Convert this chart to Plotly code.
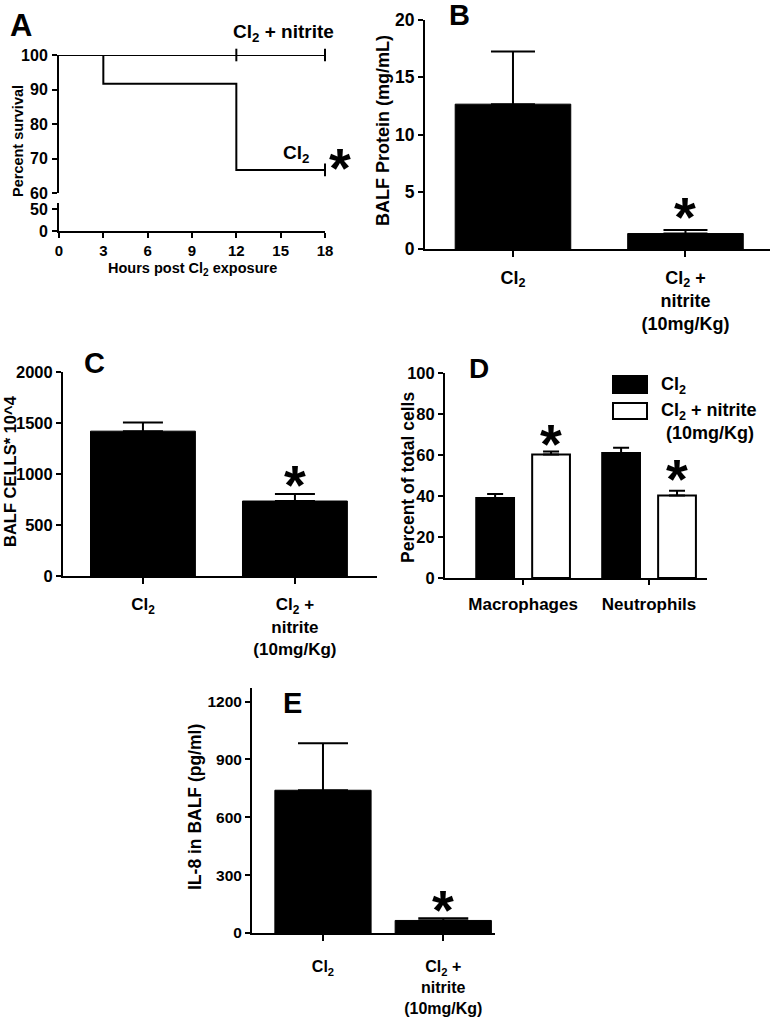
import plotly.graph_objects as go

# ---------------- data ----------------
# Panel A: survival
hours_cl2 = [0, 3, 12, 18]
surv_cl2 = [100, 91.7, 66.7, 66.7]
hours_nitrite = [0, 18]
surv_nitrite = [100, 100]
censor_nitrite_h = [12, 18]
censor_nitrite_s = [100, 100]
censor_cl2_h = [18]
censor_cl2_s = [66.7]
a_xticks = [0, 3, 6, 9, 12, 15, 18]
a_yticks_top = [60, 70, 80, 90, 100]
a_yticks_bot = [0, 50]

# Category labels
groups = ["Cl<sub>2</sub>", "Cl<sub>2</sub> +<br>nitrite<br>(10mg/Kg)"]

# Panel B: BALF protein (mg/mL)
protein_mean = [12.65, 1.35]
protein_sem = [4.6, 0.3]
b_yticks = [0, 5, 10, 15, 20]

# Panel C: BALF cells * 10^4
cells_mean = [1420, 735]
cells_sem = [85, 70]
c_yticks = [0, 500, 1000, 1500, 2000]

# Panel D: percent of total cells
cell_types = ["Macrophages", "Neutrophils"]
d_cl2_pct = [39, 61]
d_cl2_sem = [2.0, 2.5]
d_nit_pct = [60.3, 40.3]
d_nit_sem = [1.4, 2.3]
d_yticks = [0, 20, 40, 60, 80, 100]

# Panel E: IL-8 in BALF (pg/ml)
il8_mean = [740, 65]
il8_sem = [243, 12]
e_yticks = [0, 300, 600, 900, 1200]

# ---------------- layout helpers ----------------
W, H = 771, 1020
FONT = "Liberation Sans, Arial, sans-serif"


def fx(p):
    return p / W


def fy(p):
    return 1 - p / H


def bold(size):
    return dict(family=FONT, size=size, color="black", weight="bold")


axis_common = dict(showline=True, linecolor="black", linewidth=2, ticks="outside",
                   tickcolor="black", tickwidth=2, ticklen=5, showgrid=False,
                   zeroline=False, mirror=False, automargin=False)

fig = go.Figure()

# ---------------- Panel A ----------------
fig.add_trace(go.Scatter(x=hours_nitrite, y=surv_nitrite, mode="lines",
                         line=dict(color="black", width=2), xaxis="x", yaxis="y",
                         cliponaxis=False, showlegend=False))
fig.add_trace(go.Scatter(x=hours_cl2, y=surv_cl2, mode="lines", line_shape="hv",
                         line=dict(color="black", width=2), xaxis="x", yaxis="y",
                         cliponaxis=False, showlegend=False))
fig.add_trace(go.Scatter(x=censor_nitrite_h + censor_cl2_h,
                         y=censor_nitrite_s + censor_cl2_s, mode="markers",
                         marker=dict(symbol="line-ns", size=9,
                                     line=dict(color="black", width=2)),
                         xaxis="x", yaxis="y", cliponaxis=False, showlegend=False))
fig.add_trace(go.Scatter(x=[], y=[], xaxis="x2", yaxis="y2", showlegend=False))

# ---------------- Panel B ----------------
fig.add_trace(go.Bar(x=groups, y=protein_mean, width=0.67,
                     marker=dict(color="black", line=dict(color="black", width=1)),
                     error_y=dict(type="data", array=protein_sem, arrayminus=[0, 0],
                                  symmetric=False, color="black", thickness=2, width=22),
                     xaxis="x3", yaxis="y3", showlegend=False))

# ---------------- Panel C ----------------
fig.add_trace(go.Bar(x=groups, y=cells_mean, width=0.69,
                     marker=dict(color="black", line=dict(color="black", width=1)),
                     error_y=dict(type="data", array=cells_sem, arrayminus=[0, 0],
                                  symmetric=False, color="black", thickness=2, width=20),
                     xaxis="x4", yaxis="y4", showlegend=False))

# ---------------- Panel D ----------------
fig.add_trace(go.Bar(x=cell_types, y=d_cl2_pct, width=0.30, offset=-0.372,
                     marker=dict(color="black", line=dict(color="black", width=2)),
                     error_y=dict(type="data", array=d_cl2_sem, arrayminus=[0, 0],
                                  symmetric=False, color="black", thickness=2, width=8),
                     xaxis="x5", yaxis="y5", showlegend=False))
fig.add_trace(go.Bar(x=cell_types, y=d_nit_pct, width=0.30, offset=0.072,
                     marker=dict(color="white", line=dict(color="black", width=2)),
                     error_y=dict(type="data", array=d_nit_sem, arrayminus=[0, 0],
                                  symmetric=False, color="black", thickness=2, width=8),
                     xaxis="x5", yaxis="y5", showlegend=False))

# ---------------- Panel E ----------------
fig.add_trace(go.Bar(x=groups, y=il8_mean, width=0.8,
                     marker=dict(color="black", line=dict(color="black", width=1)),
                     error_y=dict(type="data", array=il8_sem, arrayminus=[0, 0],
                                  symmetric=False, color="black", thickness=2, width=25),
                     xaxis="x6", yaxis="y6", showlegend=False))

# ---------------- axes ----------------
layout_axes = dict(
    # A upper
    xaxis=dict(domain=[fx(59), fx(325)], range=[0, 18], anchor="y", visible=False,
               automargin=False),
    yaxis=dict(axis_common, domain=[fy(193), fy(55)], range=[60, 100], anchor="x",
               tickvals=a_yticks_top, tickfont=bold(16), ticklabelstandoff=1),
    # A lower
    xaxis2=dict(axis_common, domain=[fx(59), fx(325)], range=[0, 18], anchor="y2",
                tickvals=a_xticks, tickfont=bold(15), ticklabelstandoff=0),
    yaxis2=dict(axis_common, domain=[fy(231), fy(203)], range=[0, 63.6], anchor="x2",
                tickvals=a_yticks_bot, tickfont=bold(16), ticklabelstandoff=1),
    # B
    xaxis3=dict(axis_common, domain=[fx(425), fx(770)], range=[-0.51, 1.49], anchor="y3",
                ticklen=6, tickfont=bold(18), ticklabelstandoff=5),
    yaxis3=dict(axis_common, domain=[fy(249), fy(20)], range=[0, 20], anchor="x3",
                tickvals=b_yticks, tickfont=bold(17.5)),
    # C
    xaxis4=dict(axis_common, domain=[fx(63), fx(377)], range=[-0.526, 1.54], anchor="y4",
                ticklen=6, tickfont=bold(17), ticklabelstandoff=6),
    yaxis4=dict(axis_common, domain=[fy(576), fy(372)], range=[0, 2000], anchor="x4",
                tickvals=c_yticks, tickfont=bold(16.5)),
    # D
    xaxis5=dict(axis_common, domain=[fx(445), fx(707)], range=[-0.62, 1.46], anchor="y5",
                ticklen=5, tickfont=bold(17), ticklabelstandoff=5),
    yaxis5=dict(axis_common, domain=[fy(578), fy(373)], range=[0, 100], anchor="x5",
                tickvals=d_yticks, tickfont=bold(16.5)),
    # E
    xaxis6=dict(axis_common, domain=[fx(252), fx(495)], range=[-0.59, 1.43], anchor="y6",
                ticklen=6, tickfont=bold(16), ticklabelstandoff=12),
    yaxis6=dict(axis_common, domain=[fy(933), fy(688)], range=[0, 1270], anchor="x6",
                tickvals=e_yticks, tickfont=bold(15.5)),
)

# ---------------- annotations ----------------
ann = []


def paper_text(text, x, y, size, angle=0, xanchor="center"):
    ann.append(dict(text=text, x=fx(x), y=fy(y), xref="paper", yref="paper",
                    showarrow=False, font=bold(size), textangle=angle,
                    xanchor=xanchor, yanchor="middle"))


# panel letters
paper_text("A", 21, 25, 31)
paper_text("B", 459, 15, 29)
paper_text("C", 94, 363, 29)
paper_text("D", 479, 368, 28)
paper_text("E", 292, 703, 29)

# axis titles
paper_text("Percent survival", 18, 141, 14.5, angle=-90)
paper_text("Hours post Cl<sub>2</sub> exposure", 192, 269, 14.5)
paper_text("BALF Protein (mg/mL)", 383, 131, 18, angle=-90)
paper_text("BALF CELLS* 10^4", 10, 471, 16.5, angle=-90)
paper_text("Percent of total cells", 408, 478, 17.5, angle=-90)
paper_text("IL-8 in BALF (pg/ml)", 195, 807, 17.5, angle=-90)

# panel A curve labels
paper_text("Cl<sub>2</sub> + nitrite", 283, 33, 19)
paper_text("Cl<sub>2</sub>", 296, 154, 19)

# significance asterisks (anchored on the data: mean + sem)
STAR = 56


def star(xref, yref, x, y, yshift, xshift=0):
    ann.append(dict(text="*", x=x, y=y, xref=xref, yref=yref, showarrow=False,
                    font=bold(STAR), xanchor="center", yanchor="bottom",
                    yshift=yshift, xshift=xshift))


star("x", "y", hours_cl2[-1], surv_cl2[-1], -31, xshift=15)
star("x3", "y3", groups[1], protein_mean[1] + protein_sem[1], -20)
star("x4", "y4", groups[1], cells_mean[1] + cells_sem[1], -24)
star("x5", "y5", 0.222, d_nit_pct[0] + d_nit_sem[0], -25)
star("x5", "y5", 1.222, d_nit_pct[1] + d_nit_sem[1], -21)
star("x6", "y6", groups[1], il8_mean[1] + il8_sem[1], -25)

# Panel D legend
shapes = [
    dict(type="rect", xref="paper", yref="paper", x0=fx(613), x1=fx(647),
         y0=fy(393), y1=fy(376), fillcolor="black", line=dict(color="black", width=2)),
    dict(type="rect", xref="paper", yref="paper", x0=fx(613), x1=fx(647),
         y0=fy(419), y1=fy(403), fillcolor="white", line=dict(color="black", width=2)),
]
paper_text("Cl<sub>2</sub>", 659, 385, 18, xanchor="left")
paper_text("Cl<sub>2</sub> + nitrite", 659, 411, 18, xanchor="left")
paper_text("(10mg/Kg)", 664, 433, 18, xanchor="left")

fig.update_layout(
    width=W, height=H, autosize=False,
    margin=dict(l=0, r=0, t=0, b=0, autoexpand=False),
    paper_bgcolor="white", plot_bgcolor="rgba(0,0,0,0)",
    font=dict(family=FONT, color="black"),
    showlegend=False, barmode="overlay",
    annotations=ann, shapes=shapes,
    **layout_axes,
)

fig.write_html("out.html", config={"displayModeBar": False},
               post_script="document.body.style.margin='0';document.body.style.overflow='hidden';")
